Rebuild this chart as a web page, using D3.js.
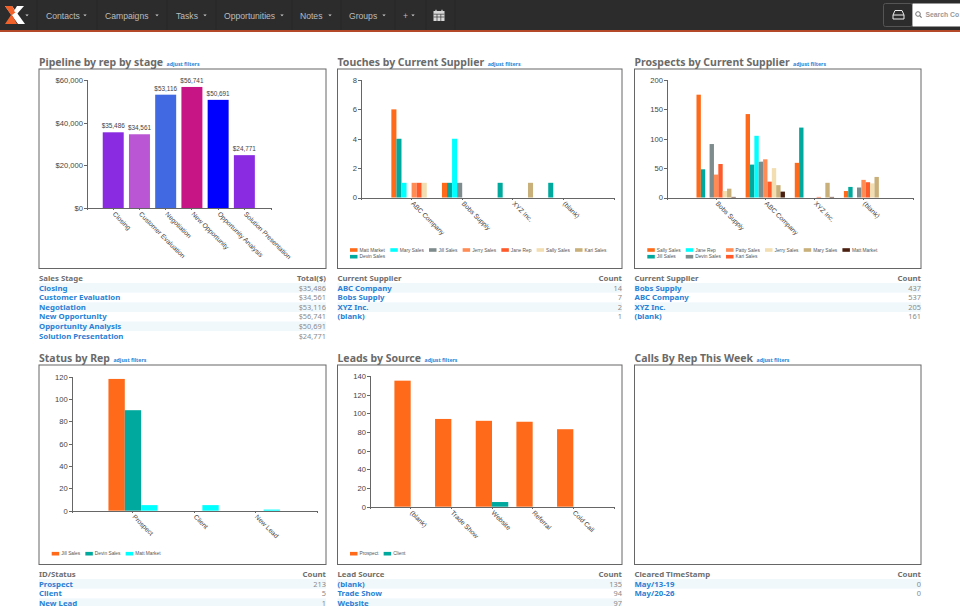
<!DOCTYPE html>
<html lang="en">
<head>
    <meta charset="UTF-8">
    <title>Sales dashboard</title>
    <script src="https://d3js.org/d3.v7.js"></script>
    <style>
        body { margin: 0; background: #fff; overflow: hidden; }
        svg { display: block; }
        text { font-family: "Liberation Sans", Arial, sans-serif; }
        .title { font-family: "Noto Sans", sans-serif; font-weight: 700; font-size: 10.5px; fill: #6a6a6a; }
        .filters { font-family: "Noto Sans", sans-serif; font-weight: 700; font-size: 5.2px; fill: #2a86d8; }
        .th { font-family: "Noto Sans", sans-serif; font-weight: 700; font-size: 7.8px; fill: #6e6e6e; }
        .link { font-family: "Noto Sans", sans-serif; font-weight: 700; font-size: 7.8px; fill: #2a7fd4; }
        .num { font-family: "Noto Sans", sans-serif; font-size: 7.4px; fill: #8a8a8a; }
        .axis text { font-size: 7.6px; fill: #444; }
        .axis.x text { font-size: 6.7px; }
        .axis path, .axis line { stroke: #666; shape-rendering: crispEdges; }
        .value { font-size: 6.4px; fill: #444; text-anchor: middle; }
        .legend text { font-size: 4.8px; fill: #555; }
        .nav { font-size: 8.6px; fill: #bdbdbd; }
    </style>
</head>
<body>
<svg id="page" width="960" height="606"></svg>
<script>
    // Navigation bar
    const navItems = ["Contacts", "Campaigns", "Tasks", "Opportunities", "Notes", "Groups", "+"];
    const navStarts = [46, 105, 176, 224, 300, 349, 403];
    const navCarets = [85, 157, 205, 282, 330, 384, 413];
    const navSeparators = [37, 97, 167, 216, 292, 341, 395, 426, 455];

    // Pipeline by rep by stage
    const stages = ["Closing", "Customer Evaluation", "Negotiation", "New Opportunity", "Opportunity Analysis", "Solution Presentation"];
    const stageTotals = [35486, 34561, 53116, 56741, 50691, 24771];
    const stageColors = ["#8a2be2", "#ba55d3", "#4169e1", "#c71585", "#0000ff", "#8a2be2"];

    // Touches by Current Supplier
    const touchSuppliers = ["ABC Company", "Bobs Supply", "XYZ Inc.", "(blank)"];
    const touchReps = ["Matt Market", "Devin Sales", "Mary Sales", "Jill Sales", "Jerry Sales", "Jane Rep", "Sally Sales", "Kari Sales"];
    const touchValues = [
        [6, 4, 1, 0, 1, 1, 1, 0],
        [1, 1, 4, 1, 0, 0, 0, 0],
        [0, 1, 0, 0, 0, 0, 0, 1],
        [0, 1, 0, 0, 0, 0, 0, 0]
    ];
    const touchLegend = ["Matt Market", "Mary Sales", "Jill Sales", "Jerry Sales", "Jane Rep", "Sally Sales", "Kari Sales", "Devin Sales"];
    const touchCounts = [14, 7, 2, 1];

    // Prospects by Current Supplier
    const prospectSuppliers = ["Bobs Supply", "ABC Company", "XYZ Inc.", "(blank)"];
    const prospectReps = ["Sally Sales", "Jill Sales", "Jane Rep", "Devin Sales", "Patty Sales", "Kari Sales", "Jerry Sales", "Mary Sales", "Matt Market"];
    const prospectValues = [
        [175, 48, 0, 91, 39, 57, 11, 15, 1],
        [142, 56, 105, 61, 65, 27, 50, 21, 10],
        [59, 119, 0, 0, 0, 1, 0, 25, 1],
        [11, 18, 0, 17, 30, 26, 24, 35, 0]
    ];
    const prospectLegend = ["Sally Sales", "Jane Rep", "Patty Sales", "Jerry Sales", "Mary Sales", "Matt Market", "Jill Sales", "Devin Sales", "Kari Sales"];
    const prospectCounts = [437, 537, 205, 161];

    // Status by Rep
    const statuses = ["Prospect", "Client", "New Lead"];
    const statusReps = ["Jill Sales", "Devin Sales", "Matt Market"];
    const statusValues = [
        [118, 90, 5],
        [0, 0, 5],
        [0, 0, 1]
    ];
    const statusCounts = [213, 5, 1];

    // Leads by Source
    const sources = ["(blank)", "Trade Show", "Website", "Referral", "Cold Call"];
    const leadTypes = ["Prospect", "Client"];
    const leadValues = [
        [135, 0],
        [94, 0],
        [92, 5],
        [91, 0],
        [83, 0]
    ];
    const sourceTable = ["(blank)", "Trade Show", "Website"];
    const sourceCounts = [135, 94, 97];

    // Calls By Rep This Week
    const weeks = ["May/13-19", "May/20-26"];
    const weekCounts = [0, 0];

    const palette = ["#ff6a1a", "#00a99d", "#00ffff", "#7f8c8d", "#ff8c55", "#ff5a2a", "#f2deb0", "#c9b07a", "#4a2010"];

    const svg = d3.select("#page");

    drawNav();

    // Panels: column x positions and row y positions
    const colX = [39, 337.5, 634.5];
    const colW = [287, 284.5, 286.5];
    const rowY = [69, 365];
    const boxH = 199.5;

    panel(0, 0, "Pipeline by rep by stage");
    panel(1, 0, "Touches by Current Supplier");
    panel(2, 0, "Prospects by Current Supplier");
    panel(0, 1, "Status by Rep");
    panel(1, 1, "Leads by Source");
    panel(2, 1, "Calls By Rep This Week");

    table(0, 0, "Sales Stage", "Total($)", stages, stageTotals.map(d => "$" + d3.format(",")(d)));
    table(1, 0, "Current Supplier", "Count", touchSuppliers, touchCounts);
    table(2, 0, "Current Supplier", "Count", prospectSuppliers, prospectCounts);
    table(0, 1, "ID/Status", "Count", statuses, statusCounts);
    table(1, 1, "Lead Source", "Count", sourceTable, sourceCounts);
    table(2, 1, "Cleared TimeStamp", "Count", weeks, weekCounts);

    // Single series chart with value labels
    const pipeline = chartFrame({
        x0: 87, x1: 270.6, y0: 208, y1: 80,
        groups: stages, max: 60000, ticks: [0, 20000, 40000, 60000],
        fmt: d => "$" + d3.format(",")(d)
    });
    pipeline.g.selectAll("rect.bar").data(stageTotals).enter().append("rect")
        .attr("x", (d, i) => pipeline.x(stages[i]))
        .attr("y", d => pipeline.y(d))
        .attr("width", pipeline.x.bandwidth())
        .attr("height", d => pipeline.y(0) - pipeline.y(d))
        .attr("fill", (d, i) => stageColors[i]);
    pipeline.g.selectAll("text.value").data(stageTotals).enter().append("text")
        .attr("class", "value")
        .attr("x", (d, i) => pipeline.x(stages[i]) + pipeline.x.bandwidth() / 2)
        .attr("y", d => pipeline.y(d) - 4)
        .text(d => "$" + d3.format(",")(d));

    groupedChart({
        x0: 361, x1: 614, y0: 197.5, y1: 80, groups: touchSuppliers, series: touchReps,
        values: touchValues, max: 8, ticks: [0, 2, 4, 6, 8],
        legend: touchLegend, legendX: 350, legendY: 250, legendCols: 7
    });
    groupedChart({
        x0: 667, x1: 912.7, y0: 197.5, y1: 80, groups: prospectSuppliers, series: prospectReps,
        values: prospectValues, max: 200, ticks: [0, 50, 100, 150, 200],
        legend: prospectLegend, legendX: 647.3, legendY: 250, legendCols: 6
    });
    groupedChart({
        x0: 71.7, x1: 316.7, y0: 510.7, y1: 376.7, groups: statuses, series: statusReps,
        values: statusValues, max: 120, ticks: d3.range(0, 121, 20),
        legend: statusReps, legendX: 51.7, legendY: 553.7, legendCols: 3
    });
    groupedChart({
        x0: 370, x1: 614, y0: 506.7, y1: 376, groups: sources, series: leadTypes,
        values: leadValues, max: 140, ticks: d3.range(0, 141, 20),
        legend: leadTypes, legendX: 350, legendY: 553.7, legendCols: 2
    });

    function chartFrame(c) {
        const g = svg.append("g");
        const x = d3.scaleBand().domain(c.groups).range([c.x0, c.x1]).paddingInner(0.2).paddingOuter(0.6);
        const y = d3.scaleLinear().domain([0, c.max]).range([c.y0, c.y1]);

        g.append("g").attr("class", "axis y")
            .attr("transform", `translate(${c.x0},0)`)
            .call(d3.axisLeft(y).tickValues(c.ticks).tickSize(3).tickPadding(1).tickFormat(c.fmt || (d => d)));

        const xAxis = g.append("g").attr("class", "axis x")
            .attr("transform", `translate(0,${c.y0})`)
            .call(d3.axisBottom(x).tickSizeInner(2).tickSizeOuter(2).tickPadding(1));
        xAxis.selectAll("text")
            .attr("text-anchor", "start")
            .attr("transform", "rotate(45)")
            .attr("x", 4)
            .attr("y", 3)
            .attr("dy", "0.35em");
        return {g, x, y};
    }

    // Grouped bars plus a small column legend
    function groupedChart(c) {
        const {g, x, y} = chartFrame(c);
        const slot = d3.scaleBand().domain(c.series).range([0, x.bandwidth()]);
        const color = d3.scaleOrdinal().domain(c.series).range(palette);

        const groups = g.selectAll("g.group").data(c.values).enter().insert("g", ".axis")
            .attr("class", "group")
            .attr("transform", (d, i) => `translate(${x(c.groups[i])},0)`);
        groups.selectAll("rect").data(d => d).enter().append("rect")
            .attr("x", (d, i) => slot(c.series[i]))
            .attr("y", d => y(d))
            .attr("width", slot.bandwidth())
            .attr("height", d => y(0) - y(d))
            .attr("fill", (d, i) => color(c.series[i]));

        legend(g, c, color);
    }

    function legend(g, c, color) {
        const swatchW = 7.5, textX = 9.5, rowStep = 6.7, colPad = 5.2;
        const lg = g.append("g").attr("class", "legend");
        const items = lg.selectAll("g").data(c.legend).enter().append("g");
        items.append("rect")
            .attr("width", swatchW).attr("height", 3.6).attr("y", -1.8)
            .attr("fill", d => color(d));
        items.append("text").attr("x", textX).attr("dy", "0.35em").text(d => d);

        // Column widths follow the longest label in each column
        const widths = [];
        items.select("text").each(function(d, i) {
            const col = i % c.legendCols;
            widths[col] = Math.max(widths[col] || 0, this.getComputedTextLength() + textX + colPad);
        });
        const offsets = widths.map((w, i) => d3.sum(widths.slice(0, i)));
        items.attr("transform", (d, i) => {
            const col = i % c.legendCols, row = Math.floor(i / c.legendCols);
            return `translate(${c.legendX + offsets[col]},${c.legendY + row * rowStep})`;
        });
    }

    function panel(col, row, title) {
        const x = colX[col], y = rowY[row];
        const t = svg.append("text").attr("class", "title").attr("x", x).attr("y", y - 3.5).text(title);
        svg.append("text").attr("class", "filters")
            .attr("x", x + t.node().getComputedTextLength() + 3.5).attr("y", y - 3.5).text("adjust filters");
        svg.append("rect")
            .attr("x", x).attr("y", y).attr("width", colW[col]).attr("height", boxH)
            .attr("fill", "#fff").attr("stroke", "#666").attr("stroke-width", 1);
    }

    function table(col, row, left, right, names, values) {
        const x = colX[col], w = colW[col], top = rowY[row] + boxH + 5, rowH = 9.6;
        const g = svg.append("g");
        g.append("text").attr("class", "th").attr("x", x).attr("y", top + 7.5).text(left);
        g.append("text").attr("class", "th").attr("x", x + w).attr("y", top + 7.5).attr("text-anchor", "end").text(right);
        names.forEach((name, i) => {
            const y = top + rowH * (i + 1);
            if (i % 2 === 0) {
                g.append("rect").attr("x", x).attr("y", y).attr("width", w).attr("height", rowH).attr("fill", "#f0f8fc");
            }
            g.append("text").attr("class", "link").attr("x", x).attr("y", y + 7.5).text(name);
            g.append("text").attr("class", "num").attr("x", x + w).attr("y", y + 7.5).attr("text-anchor", "end").text(values[i]);
        });
    }

    function drawNav() {
        const nav = svg.append("g");
        nav.append("rect").attr("width", 960).attr("height", 30).attr("fill", "#2c2c2c");
        nav.append("rect").attr("y", 30).attr("width", 960).attr("height", 2).attr("fill", "#b4492a");

        nav.selectAll("line").data(navSeparators).enter().append("line")
            .attr("x1", d => d).attr("x2", d => d).attr("y1", 0).attr("y2", 30)
            .attr("stroke", "#262626");

        nav.selectAll("text.nav").data(navItems).enter().append("text")
            .attr("class", "nav")
            .attr("x", (d, i) => navStarts[i]).attr("y", 18.6)
            .text(d => d);

        const caret = x => `M${x - 1.7},14.5L${x + 1.7},14.5L${x},16.3Z`;
        nav.selectAll("path.caret").data(navCarets.concat([27])).enter().append("path")
            .attr("class", "caret").attr("d", caret).attr("fill", "#ccc");

        // Logo
        nav.append("path").attr("d", "M5,6L12,6L25,24L18,24Z").attr("fill", "#fff");
        nav.append("path").attr("d", "M5,6L12,6L16,12L12,15L17,24L5,24L11,15Z").attr("fill", "#f0622a");
        nav.append("path").attr("d", "M17,6L24,6L17,14L14,11Z").attr("fill", "#fff");

        // Calendar icon
        nav.append("rect").attr("x", 433.5).attr("y", 11).attr("width", 11).attr("height", 10).attr("fill", "#d8d8d8");
        nav.append("path").attr("d", "M433.5,14.2H444.5M433.5,17H444.5M437,14.2V21M440.8,14.2V21").attr("stroke", "#3a3a3a").attr("stroke-width", 0.7);
        nav.append("path").attr("d", "M436,9.8V12M442,9.8V12").attr("stroke", "#d8d8d8").attr("stroke-width", 1.2);

        // Inbox button and search box
        nav.append("rect").attr("x", 883.5).attr("y", 3.5).attr("width", 29).attr("height", 23).attr("rx", 2)
            .attr("fill", "#2c2c2c").attr("stroke", "#555");
        nav.append("path").attr("d", "M893,15L895,10.5H902L904,15V19H893ZM893,15H904")
            .attr("fill", "none").attr("stroke", "#eee").attr("stroke-width", 1);
        nav.append("rect").attr("x", 912.5).attr("y", 3.5).attr("width", 48).attr("height", 23).attr("fill", "#fff");
        nav.append("circle").attr("cx", 918).attr("cy", 14).attr("r", 2.3).attr("fill", "none").attr("stroke", "#777").attr("stroke-width", 1);
        nav.append("path").attr("d", "M919.7,15.7L921.6,17.6").attr("stroke", "#777").attr("stroke-width", 1.2);
        nav.append("text").attr("x", 925.5).attr("y", 17).attr("font-size", 6.8).attr("font-weight", 700).attr("fill", "#999").text("Search Co");
    }
</script>
</body>
</html>
